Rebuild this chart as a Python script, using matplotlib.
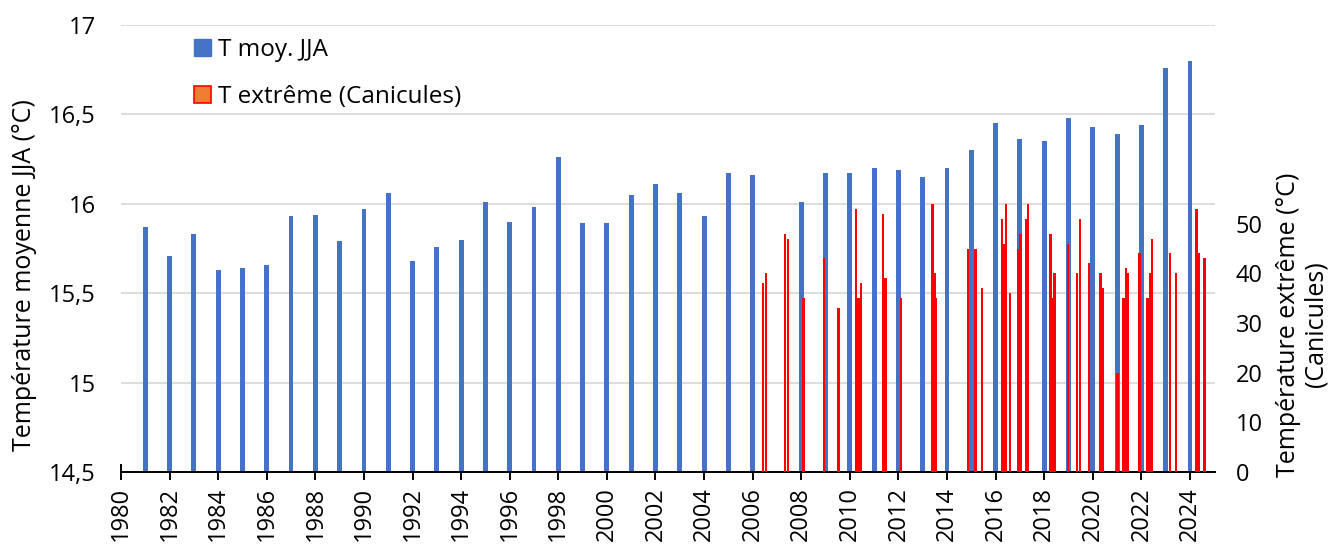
#coding:utf8

import numpy as np
import matplotlib.pyplot as plt
from matplotlib.patches import Patch

plt.rcParams['font.family'] = ['Open Sans', 'DejaVu Sans']

# Températures moyennes JJA (pas de valeur pour 2007)
annees = [1981, 1982, 1983, 1984, 1985, 1986, 1987, 1988, 1989, 1990,
          1991, 1992, 1993, 1994, 1995, 1996, 1997, 1998, 1999, 2000,
          2001, 2002, 2003, 2004, 2005, 2006, 2008, 2009, 2010, 2011,
          2012, 2013, 2014, 2015, 2016, 2017, 2018, 2019, 2020, 2021,
          2022, 2023, 2024]
t_moy = [15.87, 15.71, 15.83, 15.63, 15.64, 15.66, 15.93, 15.94, 15.79, 15.97,
         16.06, 15.68, 15.76, 15.80, 16.01, 15.90, 15.98, 16.26, 15.89, 15.89,
         16.05, 16.11, 16.06, 15.93, 16.17, 16.16, 16.01, 16.17, 16.17, 16.20,
         16.19, 16.15, 16.20, 16.30, 16.45, 16.36, 16.35, 16.48, 16.43, 16.39,
         16.44, 16.76, 16.80]

# Températures extrêmes des canicules (date en année décimale)
dates_canicules = [2006.42, 2006.55, 2007.33, 2007.45, 2008.09, 2008.94, 2009.53,
                   2010.25, 2010.36, 2010.46, 2011.36, 2011.47, 2012.11,
                   2013.40, 2013.48, 2013.55, 2014.86, 2015.17, 2015.44,
                   2016.26, 2016.34, 2016.43, 2016.59, 2016.92, 2017.02,
                   2017.25, 2017.33, 2018.26, 2018.34, 2018.42, 2018.98,
                   2019.35, 2019.47, 2019.84, 2020.32, 2020.42, 2021.01,
                   2021.26, 2021.36, 2021.45, 2021.92, 2022.25, 2022.35,
                   2022.44, 2023.18, 2023.42, 2024.27, 2024.37, 2024.60]
t_extreme = [38, 40, 48, 47, 35, 43, 33,
             53, 35, 38, 52, 39, 35,
             54, 40, 35, 45, 45, 37,
             51, 46, 54, 36, 45, 48,
             51, 54, 48, 35, 40, 46,
             40, 51, 42, 40, 37, 20,
             35, 41, 40, 44, 35, 40,
             47, 44, 40, 53, 44, 43]

graduations_g = [14.5, 15, 15.5, 16, 16.5, 17]
etiquettes_g = ["14,5", "15", "15,5", "16", "16,5", "17"]
graduations_d = [0, 10, 20, 30, 40, 50]
graduations_x = list(range(1980, 2025, 2))

bleu = "#4472C4"
rouge = "#FF0000"

fig = plt.figure(figsize=(13.34, 5.46), dpi=100)
ax = fig.add_axes([0.0907, 0.1355, 0.8201, 0.8187])

ax.bar(annees, t_moy, width=0.2, color=bleu, zorder=2)
ax.set_ylim(14.5, 17)
ax.set_xlim(1980, 2025.03)
ax.set_yticks(graduations_g)
ax.set_yticklabels(etiquettes_g)
ax.set_xticks(graduations_x)
ax.set_xticklabels([str(a) for a in graduations_x], rotation=90)
ax.grid(axis="y", color="#D9D9D9", linewidth=1.3, zorder=0)
ax.set_axisbelow(True)

for s in ["left", "right", "top"]:
    ax.spines[s].set_visible(False)
ax.spines["bottom"].set_linewidth(1.4)
ax.spines["bottom"].set_zorder(5)
ax.tick_params(axis="y", length=0, pad=18, labelsize=17)
ax.tick_params(axis="x", direction="inout", length=12, width=1.4, pad=5, labelsize=17)

ax.set_ylabel("Température moyenne JJA (°C)", fontsize=18)
ax.yaxis.set_label_coords(-0.077, 0.44)

# Axe secondaire pour les canicules
ax2 = ax.twinx()
ax2.bar(dates_canicules, t_extreme, width=0.11, color=rouge, zorder=3)
ax2.set_ylim(0, 90)
ax2.set_yticks(graduations_d)
for s in ["left", "right", "top", "bottom"]:
    ax2.spines[s].set_visible(False)
ax2.tick_params(axis="y", length=0, pad=15, labelsize=17)
ax2.set_ylabel("Température extrême (°C)\n(Canicules)", fontsize=18, linespacing=1.15)
ax2.yaxis.set_label_coords(1.0555, 0.33)

# Légende
poignees = [Patch(facecolor=bleu, edgecolor=bleu),
            Patch(facecolor="#ED7D31", edgecolor=rouge, linewidth=1.2)]
ax.legend(poignees, ["T moy. JJA", "T extrême (Canicules)"],
          loc="upper left", bbox_to_anchor=(194 / 1334, 1 - 38 / 546),
          bbox_transform=fig.transFigure, frameon=False, fontsize=17.5,
          handlelength=0.7, handleheight=0.7, handletextpad=0.3,
          labelspacing=0.95, borderpad=0, borderaxespad=0)

fig.savefig("out.png", dpi=100)
